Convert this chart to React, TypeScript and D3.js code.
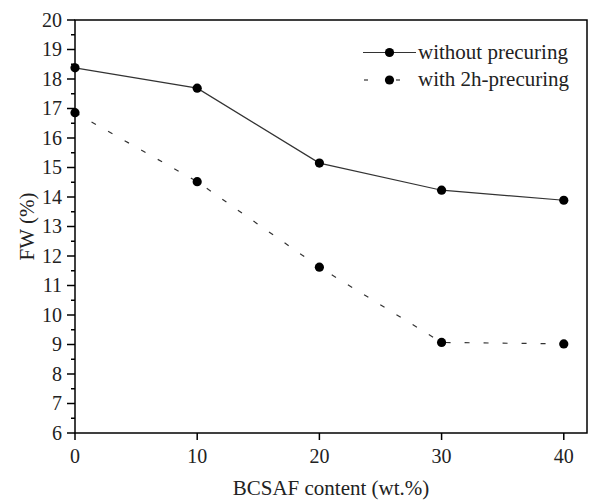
import React, { useEffect, useRef } from 'react'
import * as d3 from 'd3'

// BCSAF content (wt.%)
const contents = [0, 10, 20, 30, 40]
// FW (%)
const withoutPrecuring = [18.38, 17.69, 15.15, 14.23, 13.89]
const withPrecuring = [16.86, 14.52, 11.62, 9.07, 9.02]
const yTicks = [6, 7, 8, 9, 10, 11, 12, 13, 14, 15, 16, 17, 18, 19, 20]
const xTicks = [0, 10, 20, 30, 40]
const seriesNames = ['without precuring', 'with 2h-precuring']

function App() {
  const width = 590
  const height = 502
  const refSvg = useRef<SVGSVGElement>(null)

  const draw = () => {
    const root = d3.select(refSvg.current)
    root.selectAll('*').remove()

    const left = 75
    const right = 587
    const top = 20
    const bottom = 433

    const x = d3.scaleLinear().domain([0, 41.9]).range([left, right])
    const y = d3.scaleLinear().domain([6, 20]).range([bottom, top])

    const svg = root.append('g').style('font-family', "'Liberation Serif', 'Times New Roman', Times, serif")

    // frame
    svg
      .append('rect')
      .attr('x', left)
      .attr('y', top)
      .attr('width', right - left)
      .attr('height', bottom - top)
      .attr('fill', 'none')
      .attr('stroke', '#000')
      .attr('stroke-width', 1.5)

    // y axis ticks
    const minor = d3.range(6.5, 20, 1)
    svg
      .selectAll('.ymin')
      .data(minor)
      .join('line')
      .attr('x1', left - 4)
      .attr('x2', left)
      .attr('y1', (d) => y(d))
      .attr('y2', (d) => y(d))
      .attr('stroke', '#000')
      .attr('stroke-width', 1.5)
    svg
      .selectAll('.ymaj')
      .data(yTicks)
      .join('line')
      .attr('x1', left - 8)
      .attr('x2', left)
      .attr('y1', (d) => y(d))
      .attr('y2', (d) => y(d))
      .attr('stroke', '#000')
      .attr('stroke-width', 1.5)
    svg
      .selectAll('.ylab')
      .data(yTicks)
      .join('text')
      .attr('x', left - 13)
      .attr('y', (d) => y(d))
      .attr('dy', '0.34em')
      .attr('text-anchor', 'end')
      .attr('font-size', 20)
      .attr('fill', '#222')
      .text((d) => d)

    // x axis ticks
    svg
      .selectAll('.xmaj')
      .data(xTicks)
      .join('line')
      .attr('x1', (d) => x(d))
      .attr('x2', (d) => x(d))
      .attr('y1', bottom)
      .attr('y2', bottom + 7)
      .attr('stroke', '#000')
      .attr('stroke-width', 1.5)
    svg
      .selectAll('.xlab')
      .data(xTicks)
      .join('text')
      .attr('x', (d) => x(d))
      .attr('y', 463)
      .attr('text-anchor', 'middle')
      .attr('font-size', 20)
      .attr('fill', '#222')
      .text((d) => d)

    // axis titles
    svg
      .append('text')
      .attr('x', (left + right) / 2)
      .attr('y', 495)
      .attr('text-anchor', 'middle')
      .attr('font-size', 21)
      .attr('fill', '#222')
      .text('BCSAF content (wt.%)')
    svg
      .append('text')
      .attr('transform', `translate(34, ${(top + bottom) / 2}) rotate(-90)`)
      .attr('text-anchor', 'middle')
      .attr('font-size', 21)
      .attr('fill', '#222')
      .text('FW (%)')

    const line = d3
      .line<number>()
      .x((_, i) => x(contents[i]))
      .y((d) => y(d))

    const series = [
      { values: withoutPrecuring, dash: null },
      { values: withPrecuring, dash: '5,14' },
    ]

    series.forEach((s) => {
      svg
        .append('path')
        .datum(s.values)
        .attr('fill', 'none')
        .attr('stroke', '#333')
        .attr('stroke-width', 1.2)
        .attr('stroke-dasharray', s.dash)
        .attr('d', line)
      svg
        .append('g')
        .selectAll('circle')
        .data(s.values)
        .join('circle')
        .attr('cx', (_, i) => x(contents[i]))
        .attr('cy', (d) => y(d))
        .attr('r', 4.6)
        .attr('fill', '#000')
    })

    // legend
    const legend = svg.append('g')
    seriesNames.forEach((name, i) => {
      const ly = 52.5 + i * 27.5
      if (i === 0) {
        legend
          .append('line')
          .attr('x1', 363)
          .attr('x2', 416)
          .attr('y1', ly)
          .attr('y2', ly)
          .attr('stroke', '#333')
          .attr('stroke-width', 1.2)
      } else {
        legend
          .append('line')
          .attr('x1', 364)
          .attr('x2', 368)
          .attr('y1', ly)
          .attr('y2', ly)
          .attr('stroke', '#333')
          .attr('stroke-width', 1.2)
        legend
          .append('line')
          .attr('x1', 396)
          .attr('x2', 400)
          .attr('y1', ly)
          .attr('y2', ly)
          .attr('stroke', '#333')
          .attr('stroke-width', 1.2)
      }
      legend
        .append('circle')
        .attr('cx', 389.5)
        .attr('cy', ly)
        .attr('r', 4.6)
        .attr('fill', '#000')
      legend
        .append('text')
        .attr('x', 418)
        .attr('y', ly + 6)
        .attr('font-size', 21)
        .attr('fill', '#222')
        .text(name)
    })
  }

  useEffect(() => {
    if (refSvg.current) {
      draw()
    }
  })

  return (
    <svg
      ref={refSvg}
      width={width}
      height={height}
      style={{ position: 'absolute', left: 0, top: 0, background: '#fff' }}
    />
  )
}

export default App
